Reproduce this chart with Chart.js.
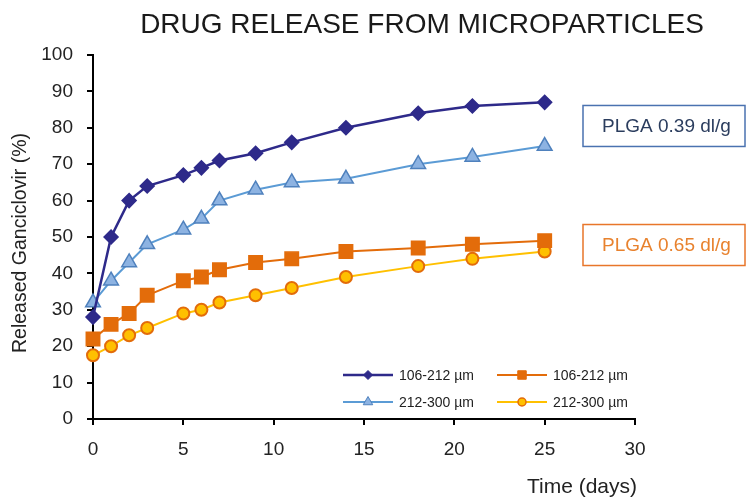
<!DOCTYPE html>
<html>
<head>
<meta charset="utf-8">
<script src="https://cdn.jsdelivr.net/npm/chart.js@4.4.1/dist/chart.umd.min.js"></script>
<style>
  html, body { margin: 0; padding: 0; background: #fff; }
  #wrap { width: 748px; height: 498px; }
</style>
</head>
<body>
<div id="wrap"><canvas id="chart" width="748" height="498"></canvas></div>
<script>
// ======================
// Datos
// ======================
const days = [0, 1, 2, 3, 5, 6, 7, 9, 11, 14, 18, 21, 25];
const plga039Small = [28, 50, 60, 64, 67, 69, 71, 73, 76, 80, 84, 86, 87];
const plga039Large = [32, 38, 43, 48, 52, 55, 60, 63, 65, 66, 70, 72, 75];
const plga065Small = [22, 26, 29, 34, 38, 39, 41, 43, 44, 46, 47, 48, 49];
const plga065Large = [17.5, 20, 23, 25, 29, 30, 32, 34, 36, 39, 42, 44, 46];
const seriesLabels = ["106-212 µm", "212-300 µm", "106-212 µm", "212-300 µm"];
const xTicks = [0, 5, 10, 15, 20, 25, 30];
const yTicks = [0, 10, 20, 30, 40, 50, 60, 70, 80, 90, 100];

const FONT = "'Liberation Sans', Arial, sans-serif";

const toPoints = (vals) => days.map((d, i) => ({ x: d, y: vals[i] }));

const styles = [
  { line: "#2e2a8a", fill: "#2e2a8a", border: "#2e2a8a", shape: "rectRot", r: 7, lr: 4.5, width: 2.5 },
  { line: "#5b9bd5", fill: "#8db3e2", border: "#4f81bd", shape: "triangle", r: 8.5, lr: 5.5, width: 2 },
  { line: "#e36c0a", fill: "#e36c0a", border: "#e36c0a", shape: "rect", r: 9.5, lr: 6, width: 2 },
  { line: "#ffc000", fill: "#ffc000", border: "#e36c0a", shape: "circle", r: 6, lr: 4, width: 2 }
];
const seriesData = [plga039Small, plga039Large, plga065Small, plga065Large];

const datasets = seriesData.map((vals, i) => ({
  label: seriesLabels[i],
  data: toPoints(vals),
  borderColor: styles[i].line,
  borderWidth: styles[i].width,
  backgroundColor: styles[i].fill,
  pointStyle: styles[i].shape,
  pointRadius: styles[i].r,
  pointHoverRadius: styles[i].r,
  pointBackgroundColor: styles[i].fill,
  pointBorderColor: styles[i].border,
  pointBorderWidth: i === 3 ? 2 : 1.5,
  tension: 0,
  clip: false
}));

// ======================
// Textos extra: título, ejes, leyenda, cajas
// ======================
const extrasPlugin = {
  id: "extras",
  afterDraw(chart) {
    const ctx = chart.ctx;
    const area = chart.chartArea;
    const yScale = chart.scales.y;
    ctx.save();

    // Título
    ctx.fillStyle = "#1a1a1a";
    ctx.font = "28px " + FONT;
    ctx.textAlign = "center";
    ctx.textBaseline = "alphabetic";
    ctx.fillText("DRUG RELEASE FROM MICROPARTICLES", 422, 33);

    // Título eje Y
    ctx.save();
    ctx.translate(21, 243);
    ctx.rotate(-Math.PI / 2);
    ctx.font = "19.5px " + FONT;
    ctx.textAlign = "center";
    ctx.textBaseline = "middle";
    ctx.fillStyle = "#222";
    ctx.fillText("Released Ganciclovir (%)", 0, 0);
    ctx.restore();

    // Título eje X
    ctx.font = "21px " + FONT;
    ctx.textAlign = "right";
    ctx.textBaseline = "alphabetic";
    ctx.fillStyle = "#222";
    ctx.fillText("Time (days)", 637, 493);

    // Leyenda (2 columnas)
    const cols = [area.left + 250, area.left + 404];
    const rows = [area.bottom - 44, area.bottom - 17];
    styles.forEach((s, i) => {
      const x0 = cols[Math.floor(i / 2)];
      const y0 = rows[i % 2];
      ctx.strokeStyle = s.line;
      ctx.lineWidth = s.width;
      ctx.beginPath();
      ctx.moveTo(x0, y0);
      ctx.lineTo(x0 + 50, y0);
      ctx.stroke();
      ctx.fillStyle = s.fill;
      ctx.strokeStyle = s.border;
      ctx.lineWidth = i === 3 ? 1.5 : 1;
      Chart.helpers.drawPoint(ctx, { pointStyle: s.shape, radius: s.lr, rotation: 0, borderWidth: ctx.lineWidth }, x0 + 25, y0);
      ctx.fillStyle = "#222";
      ctx.font = "14px " + FONT;
      ctx.textAlign = "left";
      ctx.textBaseline = "middle";
      ctx.fillText(seriesLabels[i], x0 + 56, y0 + 1);
    });

    // Cajas PLGA
    const boxes = [
      { text: "PLGA 0.39 dl/g", value: 80.5, border: "#4a72b0", color: "#2b3d5e" },
      { text: "PLGA 0.65 dl/g", value: 47.8, border: "#e8762a", color: "#e8822e" }
    ];
    boxes.forEach(b => {
      const cy = yScale.getPixelForValue(b.value);
      ctx.strokeStyle = b.border;
      ctx.lineWidth = 1.5;
      ctx.strokeRect(area.right - 52, cy - 20.5, 162, 41);
      ctx.fillStyle = b.color;
      ctx.font = "19px " + FONT;
      ctx.textAlign = "left";
      ctx.textBaseline = "middle";
      ctx.fillText(b.text, area.right - 33, cy + 1);
    });

    ctx.restore();
  }
};

// ======================
// Gráfico
// ======================
const chart = new Chart(document.getElementById("chart"), {
  type: "line",
  data: { datasets },
  options: {
    responsive: false,
    animation: false,
    events: [],
    layout: { padding: { top: 55, right: 113, left: 0, bottom: 0 } },
    plugins: {
      legend: { display: false },
      title: { display: false },
      tooltip: { enabled: false }
    },
    scales: {
      x: {
        type: "linear",
        min: 0,
        max: 30,
        afterBuildTicks: (scale) => { scale.ticks = xTicks.map(v => ({ value: v })); },
        afterFit: (scale) => { scale.height = 79; },
        ticks: { color: "#222", font: { family: FONT, size: 19 }, padding: 13, maxRotation: 0 },
        grid: { drawOnChartArea: false, drawTicks: true, tickLength: 6, color: "#000", lineWidth: 2 },
        border: { color: "#000", width: 2 }
      },
      y: {
        min: 0,
        max: 100,
        afterBuildTicks: (scale) => { scale.ticks = yTicks.map(v => ({ value: v })); },
        afterFit: (scale) => { scale.width = 93; },
        ticks: { color: "#222", font: { family: FONT, size: 19 }, padding: 14 },
        grid: { drawOnChartArea: false, drawTicks: true, tickLength: 6, color: "#000", lineWidth: 2 },
        border: { color: "#000", width: 2 }
      }
    }
  },
  plugins: [extrasPlugin]
});
</script>
</body>
</html>
